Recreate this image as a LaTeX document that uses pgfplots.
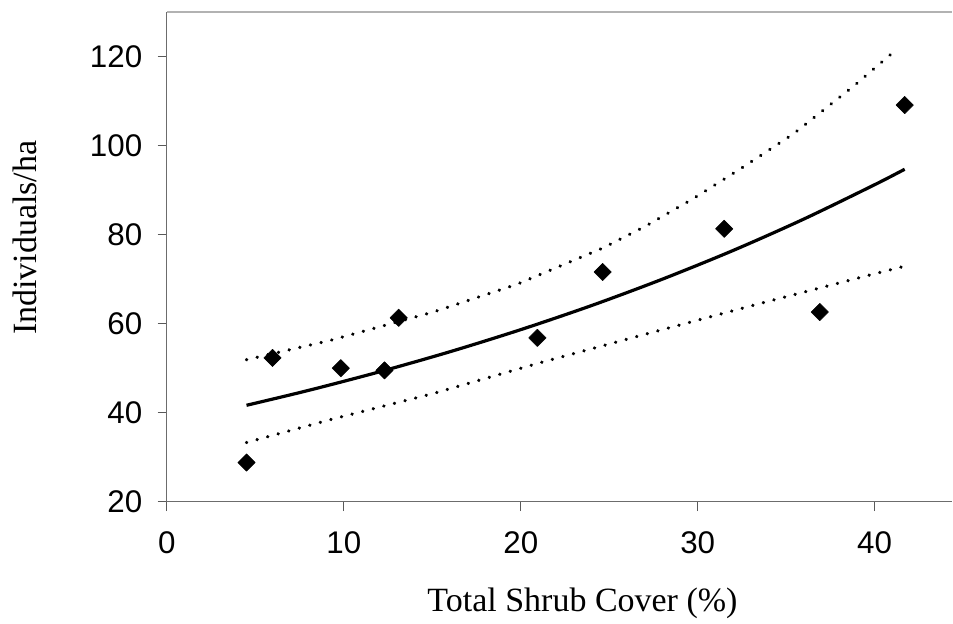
\documentclass[border=0pt]{standalone}
\usepackage{fontspec}
\setmainfont{Liberation Serif}
\newfontfamily\arialfont{Liberation Sans}
\usepackage{pgfplots}
\pgfplotsset{compat=1.18}

% observed counts
\pgfplotstableread{
x     y
4.5   28.8
5.97  52.3
9.83  50.0
12.3  49.5
13.1  61.3
20.94 56.8
24.63 71.6
31.5  81.3
36.9  62.6
41.7  109.1
}\obstab

% fitted curve
\pgfplotstableread{
x     y
4.5   41.66
8     45.00
12    49.16
16    53.69
20    58.65
24    64.06
28    69.98
32    76.43
36    83.49
40    91.20
41.7  94.68
}\fittab

% upper and lower limits
\pgfplotstableread{
x     y
4.5   51.9
9.2   56.2
15.05 62.6
19.76 68.8
24.65 77.0
27.1  82.0
29.8  88.2
32.5  95.0
35.4  102.6
38.8  113.3
41.3  121.8
}\uppertab

\pgfplotstableread{
x     y
4.5   33.3
9.2   38.4
15.05 44.3
21.07 51.2
27.3  57.9
33.5  64.5
40.0  71.2
41.6  72.8
}\lowertab

\begin{document}
\begin{tikzpicture}
\begin{axis}[
    scale only axis,
    width=589.5pt, height=367.5pt,
    xmin=0, xmax=44.4, ymin=20, ymax=130,
    xtick={0,10,20,30,40},
    ytick={20,40,60,80,100,120},
    axis x line*=bottom, axis y line*=left,
    axis line style={gray!85!black, line width=0.8pt, -},
    tick align=outside,
    major tick length=7pt,
    tick style={gray!70!black, line width=0.8pt},
    ticklabel style={font=\arialfont\fontsize{23.5}{23.5}\selectfont},
    /pgf/number format/assume math mode=true,
    xticklabel style={yshift=-12pt},
    yticklabel style={xshift=-8pt},
    xlabel={Total Shrub Cover (\%)},
    ylabel={Individuals/ha},
    label style={font=\fontsize{25.5}{25.5}\selectfont},
    xlabel style={at={(axis description cs:0.529,-0.224)}, anchor=base},
    ylabel style={at={(axis description cs:-0.181,0.539)}, anchor=center},
    clip=false,
]
\addplot[black, line width=2.6pt, line cap=round, dash pattern=on 0.1pt off 8.1pt] table {\uppertab};
\addplot[black, line width=2.6pt, line cap=round, dash pattern=on 0.1pt off 8.1pt] table {\lowertab};
\addplot[black, line width=2.4pt, smooth] table {\fittab};
\addplot[only marks, mark=square*, mark size=4.6pt, mark options={rotate=45, fill=black, draw=black, line join=round}] table {\obstab};
\draw[gray!60, line width=0.8pt] (rel axis cs:0,1) -- (rel axis cs:1,1);
\end{axis}
\path[use as bounding box] ([shift={(-125.25pt,-86.25pt)}]current axis.south west)
    rectangle ([shift={(0pt,9pt)}]current axis.north east);
\end{tikzpicture}
\end{document}
